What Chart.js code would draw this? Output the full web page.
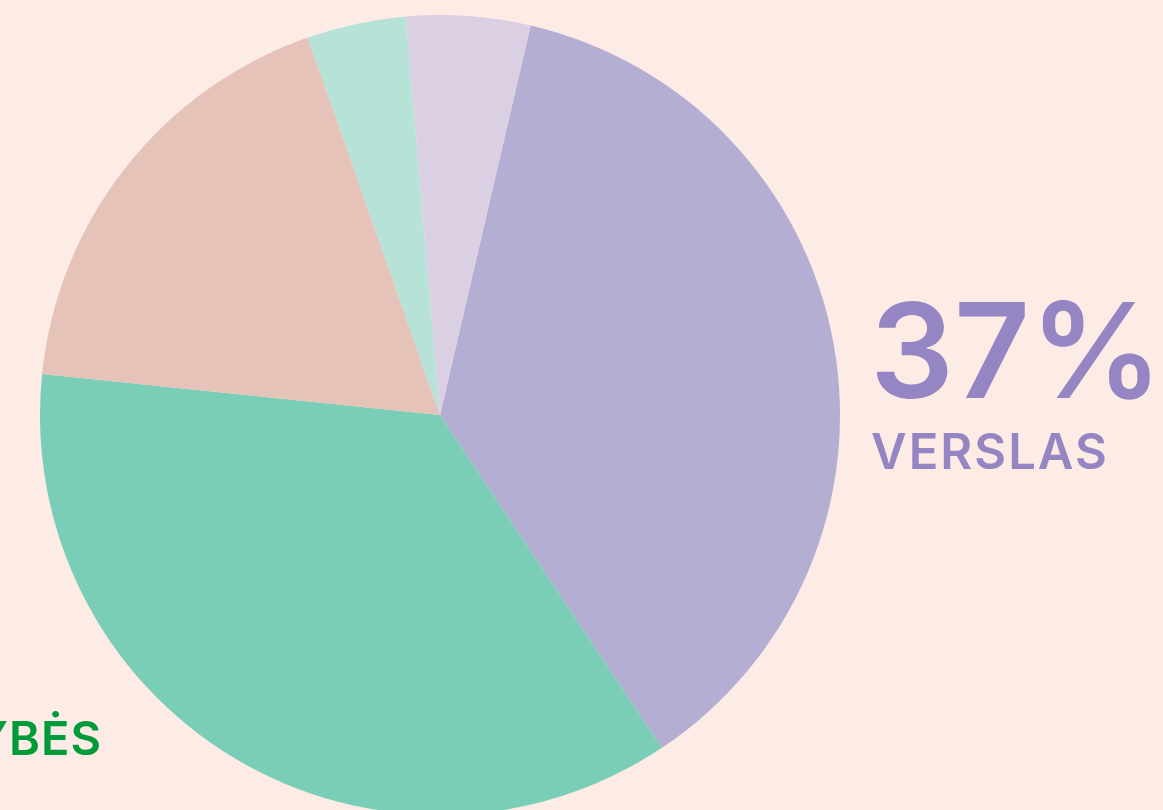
<!DOCTYPE html>
<html>
<head>
<meta charset="utf-8">
<script src="https://cdn.jsdelivr.net/npm/chart.js@4"></script>
<style>
  html, body { margin: 0; padding: 0; background: #fdebe5; overflow: hidden; }
  #wrap { position: relative; width: 1163px; height: 830px; }
</style>
</head>
<body>
<div id="wrap"><canvas id="pieChart"></canvas></div>
<script>
const labels = ["VERSLAS", "SAVIVALDYBĖS", "KITA", "KITA 2", "KITA 3"];
const values = [37, 36, 18, 4, 5];
const colors = ["#b5aed3", "#7acdb6", "#e5c3b9", "#b7e2d8", "#dbcfe3"];

// text labels drawn beside the pie
const labelPlugin = {
    id: "sideLabels",
    afterDraw(chart) {
        const ctx = chart.ctx;
        ctx.save();
        ctx.textBaseline = "alphabetic";
        ctx.textAlign = "left";
        ctx.fillStyle = "#9585c2";
        ctx.font = "600 132px Inter";
        ctx.letterSpacing = "0px";
        ctx.fillText(values[0] + "%", 870, 398);
        ctx.font = "600 49px Inter";
        ctx.letterSpacing = "2px";
        ctx.fillText(labels[0], 871, 469);

        ctx.fillStyle = "#009b3a";
        ctx.textAlign = "right";
        ctx.font = "600 47px Inter";
        ctx.letterSpacing = "1px";
        ctx.fillText(labels[1], 102, 755);
        ctx.restore();
    },
};

const config = {
    type: "pie",
    data: {
        labels: labels,
        datasets: [
            {
                data: values,
                backgroundColor: colors,
                borderWidth: 0,
            },
        ],
    },
    options: {
        responsive: true,
        maintainAspectRatio: false,
        animation: false,
        rotation: 13.1,
        layout: {
            padding: { left: 40, right: 323, top: 15, bottom: 15 },
        },
        plugins: {
            legend: { display: false },
            tooltip: { enabled: false },
        },
    },
    plugins: [labelPlugin],
};

new Chart(document.getElementById("pieChart"), config);
</script>
</body>
</html>
